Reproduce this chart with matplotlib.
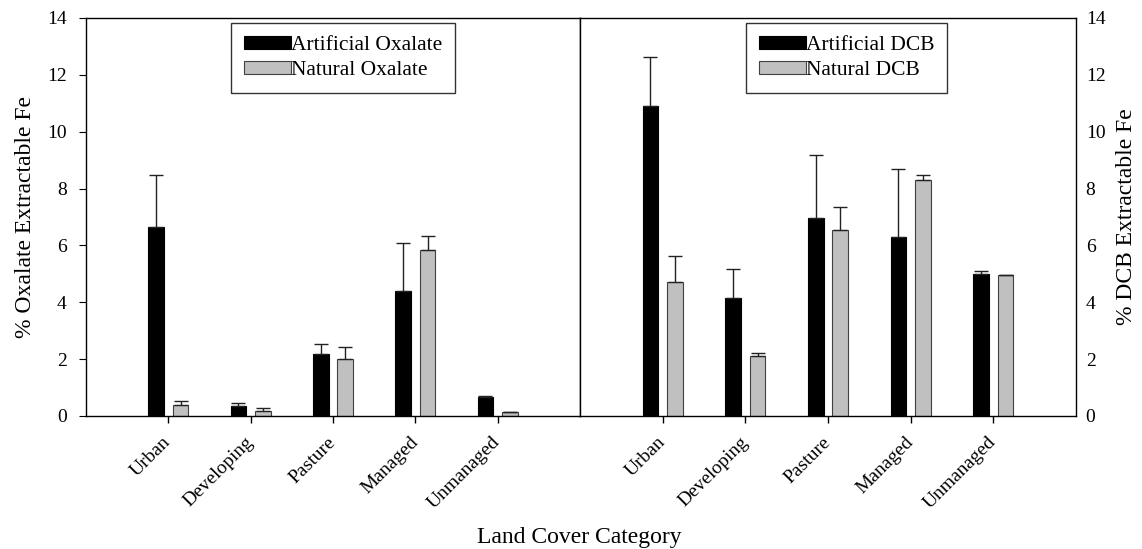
import matplotlib
matplotlib.use("Agg")
import matplotlib.pyplot as plt
import numpy as np

plt.rcParams['font.family'] = ['Liberation Serif', 'DejaVu Serif']

categories = ["Urban", "Developing", "Pasture", "Managed", "Unmanaged"]

# Oxalate extractable Fe (%)
ox_artificial = [6.66, 0.36, 2.18, 4.40, 0.68]
ox_artificial_err = [1.82, 0.11, 0.34, 1.67, 0.03]
ox_natural = [0.39, 0.17, 2.02, 5.84, 0.13]
ox_natural_err = [0.15, 0.11, 0.42, 0.49, 0.02]

# DCB extractable Fe (%)
dcb_artificial = [10.90, 4.14, 6.95, 6.31, 4.99]
dcb_artificial_err = [1.74, 1.04, 2.22, 2.39, 0.11]
dcb_natural = [4.72, 2.11, 6.54, 8.30, 4.96]
dcb_natural_err = [0.90, 0.10, 0.81, 0.17, 0.0]

W, H = 1142, 549
fig = plt.figure(figsize=(W / 100, H / 100), dpi=100)
ax1 = fig.add_axes([86 / W, 133 / H, 494 / W, 398 / H])
ax2 = fig.add_axes([580 / W, 133 / H, 496 / W, 398 / H])

x = np.arange(1, len(categories) + 1)
width = 0.19
offset = 0.148
black = "#000000"
grey = "#c0c0c0"


def draw_panel(ax, art, art_err, nat, nat_err, labels):
    zeros = np.zeros(len(art))
    ax.bar(x - offset, art, width, color=black, edgecolor=black, linewidth=0.8,
           yerr=[zeros, art_err], capsize=5,
           error_kw=dict(ecolor="#222222", elinewidth=1, capthick=1),
           label=labels[0])
    ax.bar(x + offset, nat, width, color=grey, edgecolor="#404040", linewidth=0.8,
           yerr=[zeros, nat_err], capsize=5,
           error_kw=dict(ecolor="#222222", elinewidth=1, capthick=1),
           label=labels[1])
    ax.set_xlim(0, 6)
    ax.set_ylim(0, 14)
    ax.set_xticks(x)
    ax.set_xticklabels(categories, rotation=45, ha="right", va="center",
                       rotation_mode="anchor", fontsize=14)
    ax.tick_params(axis="x", direction="out", length=5, width=1, pad=12)
    for s in ax.spines.values():
        s.set_linewidth(1)
    leg = ax.legend(loc="upper left", bbox_to_anchor=labels[2], fontsize=15.5,
                    frameon=True, fancybox=False, edgecolor="black",
                    handlelength=2.2, handleheight=0.56, handletextpad=0.0,
                    borderpad=0.58, labelspacing=0.29, borderaxespad=0)
    leg.get_frame().set_linewidth(1)


draw_panel(ax1, ox_artificial, ox_artificial_err, ox_natural, ox_natural_err,
           ("Artificial Oxalate", "Natural Oxalate", (0.294, 0.987)))
draw_panel(ax2, dcb_artificial, dcb_artificial_err, dcb_natural, dcb_natural_err,
           ("Artificial DCB", "Natural DCB", (0.335, 0.987)))

ax1.set_yticks(range(0, 15, 2))
ax1.tick_params(axis="y", direction="out", length=5, pad=9, labelsize=14)
ax1.set_ylabel("% Oxalate Extractable Fe", fontsize=17)
ax1.yaxis.set_label_coords(-0.101, 0.5)

ax2.yaxis.tick_right()
ax2.yaxis.set_label_position("right")
ax2.set_yticks(range(0, 15, 2))
ax2.tick_params(axis="y", direction="out", length=0, pad=7, labelsize=14)
ax2.set_ylabel("% DCB Extractable Fe", fontsize=17, rotation=90)
ax2.yaxis.set_label_coords(1.08, 0.5)

fig.text(579 / W, 1 - 538 / H, "Land Cover Category", ha="center", va="center",
         fontsize=17)

fig.savefig("out.png", dpi=100)
